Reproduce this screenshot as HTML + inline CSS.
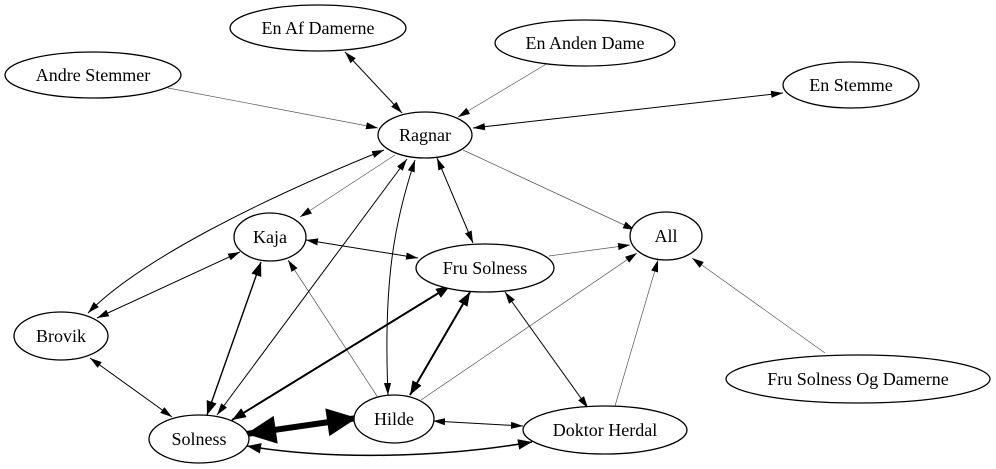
<!DOCTYPE html>
<html><head><meta charset="utf-8"><style>
html,body{margin:0;padding:0;background:#fff;}
svg{display:block;}
text{font-family:"Liberation Serif",serif;font-size:18px;text-anchor:middle;fill:#000;}
ellipse{fill:#fff;stroke:#000;stroke-width:1.3;}
path{fill:none;stroke:#000;}
</style></head><body>
<svg width="996" height="469" viewBox="0 0 996 469" xmlns="http://www.w3.org/2000/svg">
<defs>
<marker id="a" markerUnits="userSpaceOnUse" markerWidth="12" markerHeight="10" refX="10" refY="4" orient="auto-start-reverse" viewBox="0 0 10 8"><path d="M0,1 L10,4 L0,7 Z" style="fill:#000;stroke:none"/></marker>
<marker id="b" markerUnits="userSpaceOnUse" markerWidth="14" markerHeight="12" refX="12" refY="5" orient="auto-start-reverse" viewBox="0 0 12 10"><path d="M0,0.5 L12,5 L0,9.5 Z" style="fill:#000;stroke:none"/></marker>
<marker id="c" markerUnits="userSpaceOnUse" markerWidth="32" markerHeight="28" refX="30" refY="14" orient="auto-start-reverse" viewBox="0 0 30 28"><path d="M0,0 L30,14 L0,28 Z" style="fill:#000;stroke:none"/></marker>
</defs>
<g>
<path d="M548,63 L458,117" marker-end="url(#a)" style="stroke:#555;stroke-width:0.7"/>
<path d="M168,88 L378,128" marker-end="url(#a)" style="stroke:#555;stroke-width:0.7"/>
<path d="M463,150 L635,230" marker-end="url(#a)" style="stroke:#555;stroke-width:0.7"/>
<path d="M395,155 L300,217" marker-end="url(#a)" style="stroke:#555;stroke-width:0.7"/>
<path d="M377,396 L288,260" marker-end="url(#a)" style="stroke:#555;stroke-width:0.7"/>
<path d="M549,256 L630,245" marker-end="url(#a)" style="stroke:#555;stroke-width:0.7"/>
<path d="M421,400 L637,253" marker-end="url(#a)" style="stroke:#555;stroke-width:0.7"/>
<path d="M615,406 L658,260" marker-end="url(#a)" style="stroke:#555;stroke-width:0.7"/>
<path d="M825,353 L692,258" marker-end="url(#a)" style="stroke:#555;stroke-width:0.7"/>
</g>
<g style="stroke-width:1">
<path d="M345,52 L402,113" marker-start="url(#a)" marker-end="url(#a)"/>
<path d="M783,93 L473,128" marker-start="url(#a)" marker-end="url(#a)"/>
<path d="M437,158 L473,243" marker-start="url(#a)" marker-end="url(#a)"/>
<path d="M384,150 C260,200 140,260 88,313" marker-start="url(#a)" marker-end="url(#a)"/>
<path d="M240,252 L97,318" marker-start="url(#a)" marker-end="url(#a)"/>
<path d="M306,240 L418,258" marker-start="url(#a)" marker-end="url(#a)"/>
<path d="M407,159 L217,415" marker-start="url(#a)" marker-end="url(#a)"/>
<path d="M415,160 C395,220 383,280 388,395" marker-start="url(#a)" marker-end="url(#a)"/>
<path d="M505,292 L588,408" marker-start="url(#a)" marker-end="url(#a)"/>
<path d="M90,358 L172,417" marker-start="url(#a)" marker-end="url(#a)"/>
<path d="M523,426 L433,421" marker-start="url(#a)" marker-end="url(#a)"/>
</g>
<path d="M261,262 L207,415" style="stroke-width:1.4" marker-start="url(#b)" marker-end="url(#b)"/>
<path d="M450,286 L232,420" style="stroke-width:2" marker-start="url(#b)" marker-end="url(#b)"/>
<path d="M470,292 L410,395" style="stroke-width:2" marker-start="url(#b)" marker-end="url(#b)"/>
<path d="M247,446 C330,460 440,458 532,442" style="stroke-width:1.5" marker-start="url(#b)" marker-end="url(#b)"/>
<path d="M246,434 L357,418" style="stroke-width:6" marker-start="url(#c)" marker-end="url(#c)"/>
<ellipse cx="318" cy="28" rx="88" ry="23"/><text x="318" y="34">En Af Damerne</text>
<ellipse cx="585" cy="43" rx="90" ry="23"/><text x="585" y="49">En Anden Dame</text>
<ellipse cx="93" cy="75" rx="88" ry="23"/><text x="93" y="81">Andre Stemmer</text>
<ellipse cx="851" cy="85" rx="68" ry="23"/><text x="851" y="91">En Stemme</text>
<ellipse cx="425" cy="135" rx="47" ry="23"/><text x="425" y="141">Ragnar</text>
<ellipse cx="270" cy="237" rx="36" ry="24"/><text x="270" y="243">Kaja</text>
<ellipse cx="666" cy="236" rx="36" ry="24"/><text x="666" y="242">All</text>
<ellipse cx="485" cy="268" rx="69" ry="24"/><text x="485" y="274">Fru Solness</text>
<ellipse cx="61" cy="336" rx="47" ry="24"/><text x="61" y="342">Brovik</text>
<ellipse cx="858" cy="379" rx="132" ry="24"/><text x="858" y="385">Fru Solness Og Damerne</text>
<ellipse cx="394" cy="419" rx="40" ry="24"/><text x="394" y="425">Hilde</text>
<ellipse cx="199" cy="439" rx="50" ry="24"/><text x="199" y="445">Solness</text>
<ellipse cx="605" cy="430" rx="82" ry="24"/><text x="605" y="436">Doktor Herdal</text>
</svg>
</body></html>
